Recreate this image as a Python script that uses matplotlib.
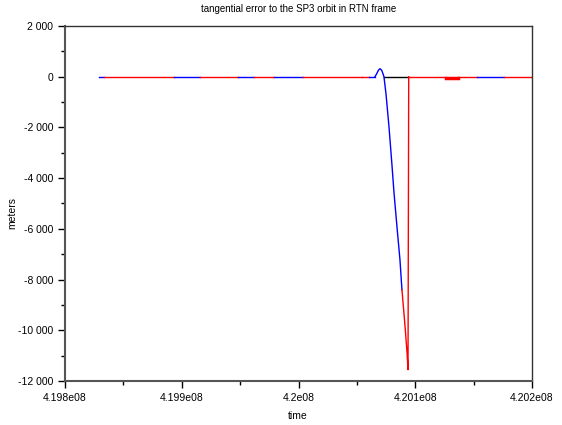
import matplotlib
matplotlib.use("Agg")
import matplotlib.pyplot as plt

plt.rcParams['font.family'] = ['Liberation Sans', 'DejaVu Sans']

# flat parts of the error (value 0) split by colour: breakpoints in time
flat_t = [4.19829e8, 4.19833e8, 4.19893e8, 4.19916e8, 4.19948e8, 4.19962e8,
          4.19979e8, 4.20004e8, 4.20054e8, 4.20060e8, 4.200655e8]
flat_c = ['blue', 'red', 'blue', 'red', 'blue', 'red', 'blue', 'red', 'red', 'blue']

flat2_t = [4.200944e8, 4.20126e8, 4.20137e8, 4.20153e8, 4.20176e8, 4.20199e8]
flat2_c = ['red', 'red', 'red', 'blue', 'red']
flat2_y = [0, -40, 0, 0, 0]

black_t = [4.200732e8, 4.200938e8]
black_y = [0, 0]

# blue dive
dive_t = [4.200655e8, 4.200670e8, 4.200685e8, 4.200698e8, 4.200712e8, 4.200725e8,
          4.200732e8, 4.200750e8, 4.200775e8, 4.200800e8, 4.200818e8,
          4.200845e8, 4.200869e8, 4.200886e8]
dive_y = [0, 120, 260, 315, 260, 100, 0, -700, -1972, -3450, -4575,
          -6000, -7217, -8400]

# red end of the dive and jump back
red_t = [4.200886e8, 4.200910e8, 4.200930e8, 4.200938e8, 4.200944e8]
red_y = [-8400, -9700, -10900, -11556, 0]

xticks = [4.198e8, 4.199e8, 4.2e8, 4.201e8, 4.202e8]
xlabels = ['4.198e08', '4.199e08', '4.2e08', '4.201e08', '4.202e08']
yticks = [2000, 0, -2000, -4000, -6000, -8000, -10000, -12000]
ylabels = ['2 000', '0', '-2 000', '-4 000', '-6 000', '-8 000', '-10 000', '-12 000']

fig = plt.figure(figsize=(5.62, 4.25), dpi=100)
ax = fig.add_axes([65 / 562, 44 / 425, 467 / 562, 355 / 425])

for i in range(len(flat_c)):
    ax.plot(flat_t[i:i + 2], [0, 0], color=flat_c[i], lw=1)
ax.plot(black_t, black_y, color='black', lw=1)
for i in range(len(flat2_c)):
    ax.plot(flat2_t[i:i + 2], [flat2_y[i], flat2_y[i]], color=flat2_c[i],
            lw=2.5 if flat2_y[i] != 0 else 1)
ax.plot(dive_t, dive_y, color='blue', lw=1)
ax.plot(red_t, red_y, color='red', lw=1)

ax.set_xlim(4.198e8, 4.202e8)
ax.set_ylim(-12000, 2000)
ax.set_xticks(xticks, xlabels)
ax.set_yticks(yticks, ylabels)
ax.set_xticks([4.1985e8, 4.1995e8, 4.2005e8, 4.2015e8], minor=True)
ax.set_yticks([1000, -1000, -3000, -5000, -7000, -9000, -11000], minor=True)
ax.tick_params(labelsize=7.5, direction='out', length=5, width=1)
ax.tick_params(which='minor', direction='out', length=3, width=1)

for s in ['left', 'bottom']:
    ax.spines[s].set_color('#555555')
    ax.spines[s].set_linewidth(1.5)
for s in ['top', 'right']:
    ax.spines[s].set_color('#333333')
    ax.spines[s].set_linewidth(1)

ax.set_title('tangential error to the SP3 orbit in RTN frame', fontsize=7, pad=10)
fig.text(298 / 562, 1 - 416 / 425, 'time', fontsize=7.5, ha='center', va='center')
fig.text(12 / 562, 1 - 213 / 425, 'meters', fontsize=7.5, ha='center', va='center',
         rotation=90)

fig.savefig('out.png', dpi=100)
